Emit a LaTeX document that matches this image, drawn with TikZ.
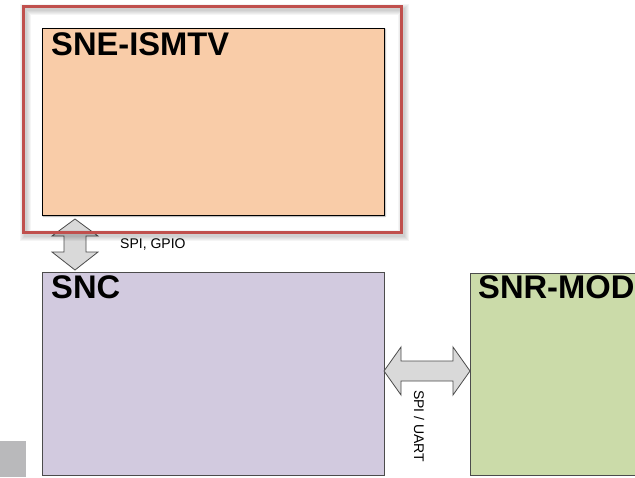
\documentclass[tikz,border=0pt]{standalone}
\usepackage{fontspec}
\setmainfont{Liberation Sans}
\usepackage{tikz}
\usetikzlibrary{shadows.blur}

\definecolor{framered}{HTML}{C0504D}
\definecolor{ismfill}{HTML}{F9CCA8}
\definecolor{sncfill}{HTML}{D2CADF}
\definecolor{snrfill}{HTML}{CBDBA9}
\definecolor{busgray}{HTML}{D9D9D9}
\definecolor{sqgray}{HTML}{B9B9BB}

\begin{document}
\begin{tikzpicture}[x=1pt,y=-1pt,
  blk/.style={draw=black!70,line width=1pt,inner sep=0,outer sep=0,anchor=north west},
  ttl/.style={font=\bfseries\fontsize{32.7}{36}\selectfont,inner sep=0,anchor=base west},
  lbl/.style={font=\fontsize{14}{16}\selectfont,inner sep=0,anchor=base west},
  bus/.style={draw=black!70,fill=busgray,line width=0.8pt,line join=miter}]
  \useasboundingbox (0,0) rectangle (635,477);
  \clip (0,0) rectangle (635,477);

  % module boxes
  \node [blk,draw=black,fill=ismfill,minimum width=342pt,minimum height=187pt,
    blur shadow={shadow xshift=1.2pt,shadow yshift=-1.2pt,shadow blur radius=1.5pt,shadow opacity=40}]
    (ism) at (42,28) {};
  \node [blk,fill=sncfill,minimum width=342pt,minimum height=203pt] (snc) at (42,272) {};
  \node [blk,fill=snrfill,minimum width=200pt,minimum height=202pt] (snr) at (470,273) {};

  \node [ttl] (ismname) at ([shift={(9,27)}]ism.north west) {SNE-ISMTV};
  \node [ttl] (sncname) at ([shift={(9,26)}]snc.north west) {SNC};
  \node [ttl] (snrname) at ([shift={(8,25)}]snr.north west) {SNR-MOD};

  % bus arrows
  \coordinate (vt) at ([shift={(33,4)}]ism.south west);
  \coordinate (vb) at ([shift={(33,-2)}]snc.north west);
  \draw [bus] (vt) -- ++(23,17) -- ++(-12,0) -- ++(0,16) -- ++(12,0) -- (vb)
    -- ++(-23,-18) -- ++(12,0) -- ++(0,-16) -- ++(-12,0) -- cycle;
  \node [lbl] (spigpio) at (120,248) {SPI, GPIO};

  \coordinate (hl) at ([shift={(0,99)}]snc.north east);
  \coordinate (hr) at ([shift={(0,98)}]snr.north west);
  \draw [bus] (hl) -- ++(17,-24) -- ++(0,14) -- ++(52,0) -- ++(0,-14) -- (hr)
    -- ++(-17,24) -- ++(0,-14) -- ++(-52,0) -- ++(0,14) -- cycle;
  \node [lbl,rotate=-90] (spiuart) at (414,390) {SPI / UART};

  % highlight frame with a soft shadow
  \node [draw=none,inner sep=0,outer sep=0,anchor=north west,
    minimum width=378pt,minimum height=226pt] (frm) at (23.5,6.5) {};
  \foreach \w in {3,5,7,9,11}
    \draw [black,opacity=0.04,line width=\w pt]
      ([shift={(1.5,2.5)}]frm.north west) rectangle ([shift={(1.5,2.5)}]frm.south east);
  \draw [framered,line width=3pt] (frm.north west) rectangle (frm.south east);

  \fill [sqgray] (0,441) rectangle (26,477);
\end{tikzpicture}
\end{document}
